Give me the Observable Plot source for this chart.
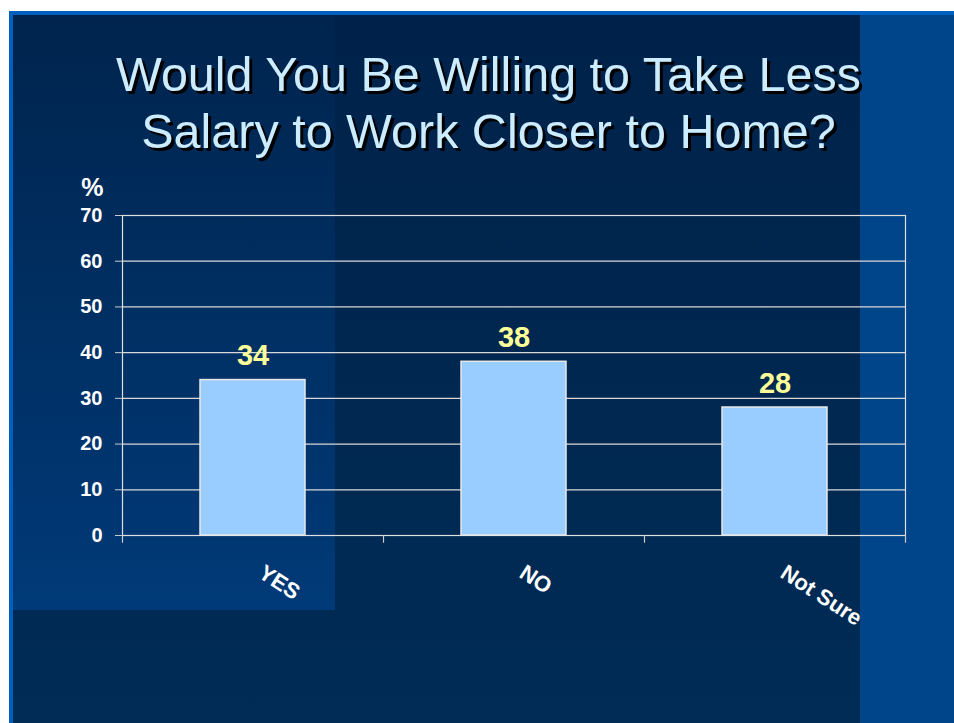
<!DOCTYPE html>
<html>
<head>
<meta charset="utf-8">
<script src="https://cdn.jsdelivr.net/npm/d3@7"></script>
<script src="https://cdn.jsdelivr.net/npm/@observablehq/plot@0.6"></script>
<style>
  html, body { margin: 0; padding: 0; background: #ffffff; }
  #page { position: relative; width: 954px; height: 723px; overflow: hidden; background: #ffffff; font-family: "Liberation Sans", Arial, sans-serif; }
  .bg { position: absolute; }
  #title { position: absolute; left: 0; top: 46px; width: 977px; text-align: center; color: #CCECFF; font-size: 48.5px; line-height: 57px; text-shadow: 3px 3px 0 #000000; white-space: nowrap; }
  #chart { position: absolute; left: 0; top: 0; }
</style>
</head>
<body>
<div id="page">
  <div class="bg" style="left:9px;top:11px;width:945px;height:712px;background:#0060C0"></div>
  <div class="bg" style="left:13px;top:15px;width:941px;height:708px;background:linear-gradient(#00224a,#002c56)"></div>
  <div class="bg" style="left:13px;top:15px;width:322px;height:595px;background:linear-gradient(#00244d,#003a78)"></div>
  <div class="bg" style="left:860px;top:15px;width:94px;height:708px;background:#00458A"></div>
  <div id="title">Would You Be Willing to Take Less<br>Salary to Work Closer to Home?</div>
  <div id="chart"></div>
</div>
<script>
const categories = ["YES", "NO", "Not Sure"];
const values = [34, 38, 28];
const yTicks = [0, 10, 20, 30, 40, 50, 60, 70];
const yLabel = "%";

const data = categories.map((c, i) => ({cat: c, value: values[i]}));

const W = 954, H = 723, mL = 122, mR = 49, mT = 215, mB = 188;
const step = (W - mL - mR) / categories.length;

const chart = Plot.plot({
  width: W,
  height: H,
  marginTop: mT,
  marginBottom: mB,
  marginLeft: mL,
  marginRight: mR,
  style: {background: "transparent", color: "white", fontFamily: "'Liberation Sans', Arial, sans-serif"},
  x: {domain: categories, padding: 0, axis: null},
  y: {domain: [0, 70], axis: null},
  marks: [
    Plot.gridY(yTicks, {stroke: "#d9d9d9", strokeOpacity: 1, strokeWidth: 1.2}),
    Plot.frame({stroke: "#e0e0e0", strokeWidth: 1.2}),
    Plot.barY(data, {x: "cat", y: "value", fill: "#99CCFF", stroke: "#e8e8e8", strokeWidth: 1.5, insetLeft: 78, insetRight: 78}),
    Plot.axisY({ticks: yTicks, tickSize: 7, tickPadding: 13, fontSize: 20, fontWeight: "bold", label: null, stroke: "#cccccc"}),
    Plot.text([yLabel], {frameAnchor: "top-left", dx: -19, dy: -20, textAnchor: "end", lineAnchor: "bottom", fontSize: 25, fontWeight: "bold", fill: "white"}),
    Plot.ruleX(categories, {x: d => d, dx: -step / 2, y1: 0, y2: -1.7, stroke: "#cccccc", strokeWidth: 1.2}),
    Plot.ruleX(categories.slice(-1), {x: d => d, dx: step / 2, y1: 0, y2: -1.7, stroke: "#cccccc", strokeWidth: 1.2}),
    Plot.text(data, {x: "cat", y: "value", text: d => String(d.value), dy: -15, lineAnchor: "bottom", fontSize: 29, fontWeight: "bold", fill: "#FFFF99"}),
    Plot.text(categories, {x: d => d, frameAnchor: "bottom", dx: 4, dy: 41, rotate: 33, textAnchor: "start", lineAnchor: "bottom", fontSize: 22, fontWeight: "bold", fill: "white"})
  ]
});
document.getElementById("chart").appendChild(chart);
</script>
</body>
</html>
